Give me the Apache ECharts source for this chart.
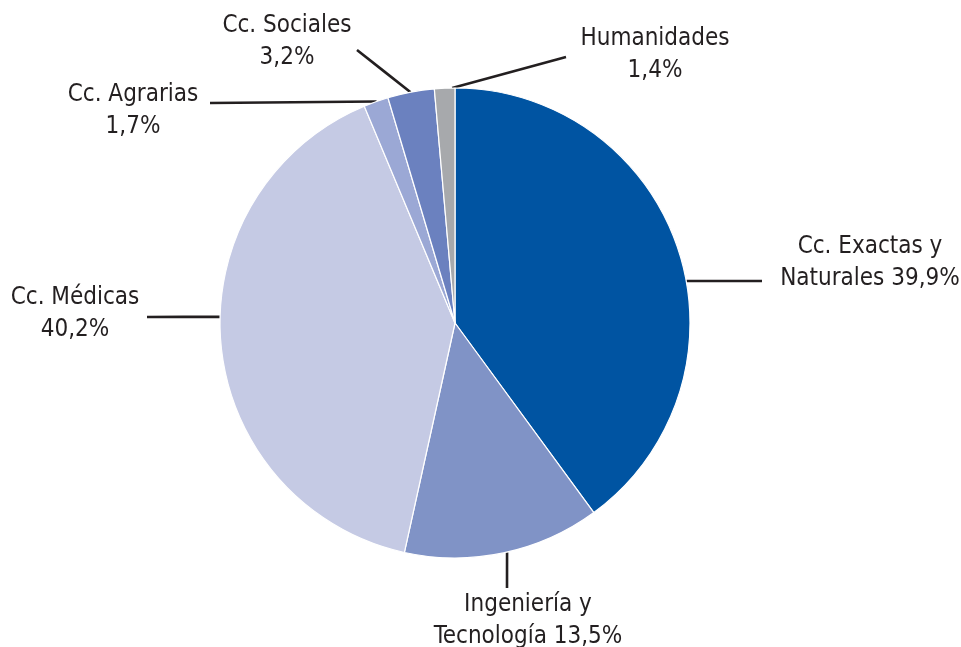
<!DOCTYPE html>
<html>
<head>
<meta charset="utf-8">
<script src="https://cdn.jsdelivr.net/npm/echarts@6/dist/echarts.min.js"></script>
<style>
  html, body { margin: 0; padding: 0; background: #ffffff; }
  #chart { width: 961px; height: 647px; }
</style>
</head>
<body>
<div id="chart"></div>
<script>
// Distribución por área científica (%)
var categories = ['Cc. Exactas y\nNaturales', 'Ingeniería y\nTecnología', 'Cc. Médicas', 'Cc. Agrarias', 'Cc. Sociales', 'Humanidades'];
var values = [39.9, 13.5, 40.2, 1.7, 3.2, 1.4];
var colors = ['#0054A2', '#8093C6', '#C5CAE4', '#9BA8D5', '#6B81BF', '#A7A9AC'];

// Label placement: angle (deg, clockwise from top) where the leader touches the rim,
// end of the leader line, and the centre of the label text block.
var CX = 455, CY = 323, R = 235;
var anchorAngle = [79.7, 167.2, 271.5, 340.5, 349.1, 359.3];
var lineEnd = [[762, 281], [507, 588], [147, 317], [210, 103], [357, 50], [566, 57]];
var textCenter = [[870, 263], [528, 621], [75, 314], [133, 111], [287, 42], [655, 55]];

function pct(v) { return v.toFixed(1).replace('.', ',') + '%'; }

var data = categories.map(function (name, i) {
  return { name: name, value: values[i], itemStyle: { color: colors[i] } };
});

var chart = echarts.init(document.getElementById('chart'));
chart.setOption({
  backgroundColor: '#ffffff',
  animation: false,
  series: [{
    type: 'pie',
    center: [CX, CY],
    radius: [0, R],
    startAngle: 90,
    clockwise: true,
    data: data,
    itemStyle: { borderColor: '#ffffff', borderWidth: 1.2 },
    label: {
      show: true,
      position: 'outside',
      fontFamily: '"Liberation Sans Narrow", "DejaVu Sans Condensed", "Roboto Condensed", sans-serif',
      fontSize: 24,
      lineHeight: 32,
      color: '#231F20',
      align: 'center',
      formatter: function (p) {
        return p.name.indexOf('\n') >= 0 ? p.name + ' ' + pct(p.value) : p.name + '\n' + pct(p.value);
      }
    },
    labelLine: {
      show: true,
      lineStyle: { color: '#231F20', width: 2.6 }
    },
    labelLayout: function (params) {
      var i = params.dataIndex;
      var a = anchorAngle[i] * Math.PI / 180;
      var ax = CX + R * Math.sin(a), ay = CY - R * Math.cos(a);
      var e = lineEnd[i];
      return {
        x: textCenter[i][0],
        y: textCenter[i][1],
        align: 'center',
        verticalAlign: 'middle',
        labelLinePoints: [[ax, ay], [(ax + e[0]) / 2, (ay + e[1]) / 2], [e[0], e[1]]]
      };
    }
  }]
});
</script>
</body>
</html>
